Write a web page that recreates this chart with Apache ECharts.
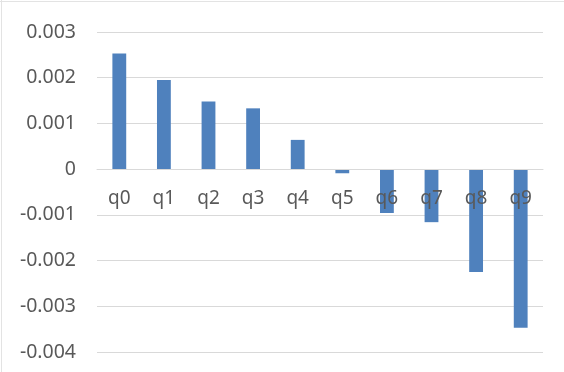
<!DOCTYPE html>
<html>
<head>
<meta charset="utf-8">
<script src="https://cdn.jsdelivr.net/npm/echarts@6/dist/echarts.min.js"></script>
<style>
html,body{margin:0;padding:0;background:#fff;}
#c{width:564px;height:372px;}
</style>
</head>
<body>
<div id="c"></div>
<script>
var categories = ['q0','q1','q2','q3','q4','q5','q6','q7','q8','q9'];
var values = [0.00253, 0.00195, 0.00148, 0.00133, 0.00064, -0.00009, -0.00096, -0.00116, -0.00225, -0.00347];
var yMin = -0.004, yMax = 0.003, yStep = 0.001;

var gridTop = 32, gridBottom = 20, H = 372;
var plotH = H - gridTop - gridBottom;
var zeroFromBottom = plotH * (0 - yMin) / (yMax - yMin);

var chart = echarts.init(document.getElementById('c'), null, {renderer:'canvas'});
chart.setOption({
  backgroundColor: '#ffffff',
  animation: false,
  graphic: [
    {type:'line', shape:{x1:0,y1:1.5,x2:564,y2:1.5}, style:{stroke:'#e3e3e3', lineWidth:1}},
    {type:'line', shape:{x1:1.5,y1:0,x2:1.5,y2:372}, style:{stroke:'#e3e3e3', lineWidth:1}}
  ],
  grid: {left: 97, right: 21, top: gridTop, bottom: gridBottom, containLabel: false, outerBoundsMode: 'none'},
  xAxis: {
    type: 'category',
    data: categories,
    position: 'bottom',
    offset: -zeroFromBottom,
    z: 5,
    axisLine: {show: true, onZero: false, lineStyle: {color: '#d9d9d9', width: 1}},
    axisTick: {show: false},
    axisLabel: {color: '#595959', fontSize: 19, fontFamily: 'Noto Sans', margin: 20}
  },
  yAxis: {
    type: 'value',
    min: yMin, max: yMax, interval: yStep,
    axisLine: {show: false},
    axisTick: {show: false},
    splitLine: {lineStyle: {color: '#d9d9d9', width: 1}},
    axisLabel: {
      color: '#595959', fontSize: 19.5, fontFamily: 'Noto Sans', margin: 21,
      formatter: function(v){ var r = Math.round(v*1000)/1000; return r === 0 ? '0' : r.toFixed(3); }
    }
  },
  series: [{
    type: 'bar',
    z: 2,
    data: values,
    barWidth: '31%',
    itemStyle: {color: '#4f81bd'}
  }]
});
</script>
</body>
</html>
